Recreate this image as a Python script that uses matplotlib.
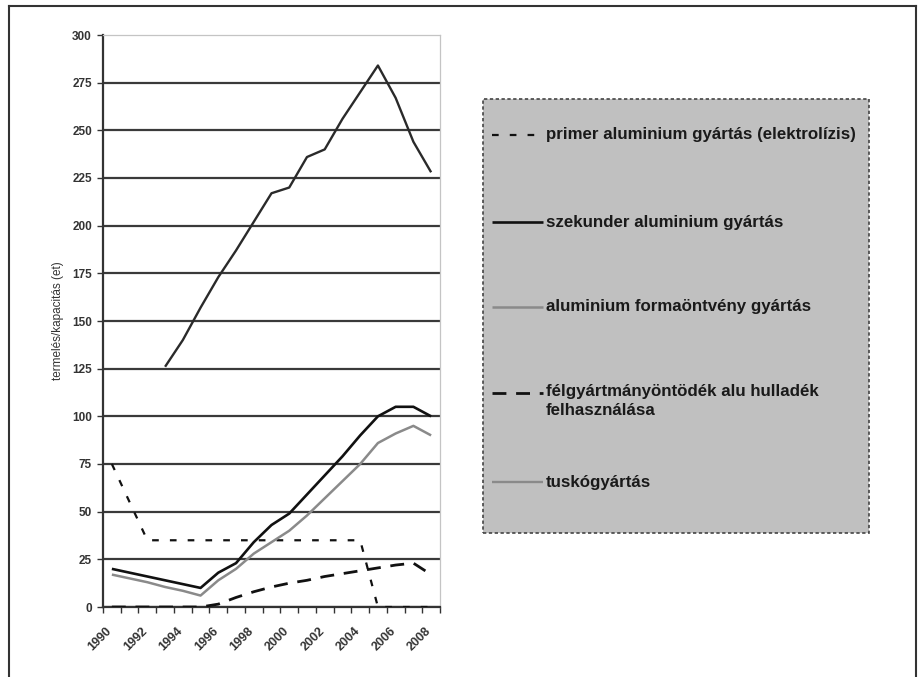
import matplotlib
matplotlib.use("Agg")
import matplotlib.pyplot as plt
from matplotlib.lines import Line2D
from matplotlib.patches import Rectangle
import matplotlib.transforms as mtransforms
import numpy as np

plt.rcParams['font.family'] = ['Liberation Sans', 'DejaVu Sans']

years = list(range(1990, 2009))
year_labels = [str(y) for y in years[::2]]

primer = [75, 55, 35, 35, 35, 35, 35, 35, 35, 35, 35, 35, 35, 35, 35, 0, 0, 0, 0]
szekunder = [20, 18, 16, 14, 12, 10, 18, 23, 34, 43, 49, 59, 69, 79, 90, 100, 105, 105, 100]
forma = [17, 15, 13, 10.5, 8.5, 6, 14, 20, 28, 34, 40, 48, 57, 66, 75, 86, 91, 95, 90]
felgy = [0, 0, 0, 0, 0, 0, 1.5, 5, 8, 10.5, 12.5, 14, 16, 17.5, 19, 20.5, 22, 23, 17]
tusko = [None, None, None, 126, 140, 157, 173, 187, 202, 217, 220, 236, 240, 256, 270, 284, 267, 244, 228]

labels = ["primer aluminium gyártás (elektrolízis)",
          "szekunder aluminium gyártás",
          "aluminium formaöntvény gyártás",
          "félgyártmányöntödék alu hulladék\nfelhasználása",
          "tuskógyártás"]
ylabel = "termelés/kapacitás (et)"
yticks = list(range(0, 301, 25))

styles = [
    dict(color='#111111', lw=1.6, dashes=(3, 5)),
    dict(color='#111111', lw=1.9),
    dict(color='#8a8a8a', lw=1.8),
    dict(color='#111111', lw=2.0, dashes=(5, 3.5)),
    dict(color='#2a2a2a', lw=1.7),
]
series = [primer, szekunder, forma, felgy, tusko]

W, H = 922, 677
fig = plt.figure(figsize=(W / 100, H / 100), dpi=100)
fig.patch.set_facecolor('white')

ax = fig.add_axes([103 / W, 1 - 607 / H, 337 / W, (607 - 35) / H])
x = np.arange(len(years))

for s, st in zip(series, styles):
    y = np.array([np.nan if v is None else v for v in s], dtype=float)
    ax.plot(x, y, solid_capstyle='butt', dash_capstyle='butt', **st, zorder=3)

ax.set_xlim(-0.5, len(years) - 0.5)
ax.set_ylim(0, 300)
ax.set_yticks(yticks)
ax.set_yticklabels([str(v) for v in yticks], fontsize=8.5, color='#333333', fontweight='bold')
ax.tick_params(axis='y', length=4, width=1, color='#333333', pad=4)

ax.set_xticks(x[::2])
ax.set_xticklabels(year_labels, rotation=45, ha='right', rotation_mode='anchor',
                   fontsize=9, color='#333333', fontweight='bold')
ax.set_xticks(np.arange(-0.5, len(years)), minor=True)
ax.tick_params(axis='x', which='major', length=0, pad=13)
ax.tick_params(axis='x', which='minor', length=4, width=1, color='#333333')
shift = mtransforms.ScaledTranslation(-6 / 100, 0, fig.dpi_scale_trans)
for lab in ax.get_xticklabels():
    lab.set_transform(lab.get_transform() + shift)

ax.yaxis.grid(True, color='#3a3a3a', lw=1.6)
ax.set_axisbelow(True)
ax.yaxis.get_major_ticks()[-1].gridline.set_visible(False)
for sp in ['top', 'right']:
    ax.spines[sp].set_color('#c4c4c4')
    ax.spines[sp].set_linewidth(0.9)
for sp in ['left', 'bottom']:
    ax.spines[sp].set_color('#333333')
    ax.spines[sp].set_linewidth(1.6)

ax.set_ylabel(ylabel, fontsize=8.5, color='#333333', labelpad=6)

# legend drawn as a box with entries
lx0, ly0, lx1, ly1 = 483, 99, 869, 533
fig.add_artist(Rectangle((lx0 / W, 1 - ly1 / H), (lx1 - lx0) / W, (ly1 - ly0) / H,
                         transform=fig.transFigure, facecolor='#c0c0c0',
                         edgecolor='#444444', lw=1.2, linestyle=(0, (2, 1.5)), zorder=1))
entry_y = [135, 222, 307, 393, 482]
for ey, lab, st in zip(entry_y, labels, styles):
    yy = 1 - ey / H
    col = '#8a8a8a' if lab == labels[-1] else st['color']
    fig.add_artist(Line2D([492 / W, 543 / W], [yy, yy], transform=fig.transFigure,
                          solid_capstyle='butt', dash_capstyle='butt', zorder=2,
                          **{**st, 'color': col}))
    if '\n' in lab:
        fig.text(546 / W, yy + 9 / H, lab, fontsize=12.2, fontweight='bold', color='#1a1a1a',
                 va='top', ha='left', zorder=3, linespacing=1.3)
    else:
        fig.text(546 / W, yy, lab, fontsize=12.2, fontweight='bold', color='#1a1a1a',
                 va='center', ha='left', zorder=3)

# outer frame (top, left, right)
for xs, ys in [([9, 9], [677, 6]), ([9, 916], [6, 6]), ([916, 916], [6, 677])]:
    fig.add_artist(Line2D([v / W for v in xs], [1 - v / H for v in ys],
                          transform=fig.transFigure, color='#333333', lw=1.5))

fig.savefig('out.png', dpi=100)
